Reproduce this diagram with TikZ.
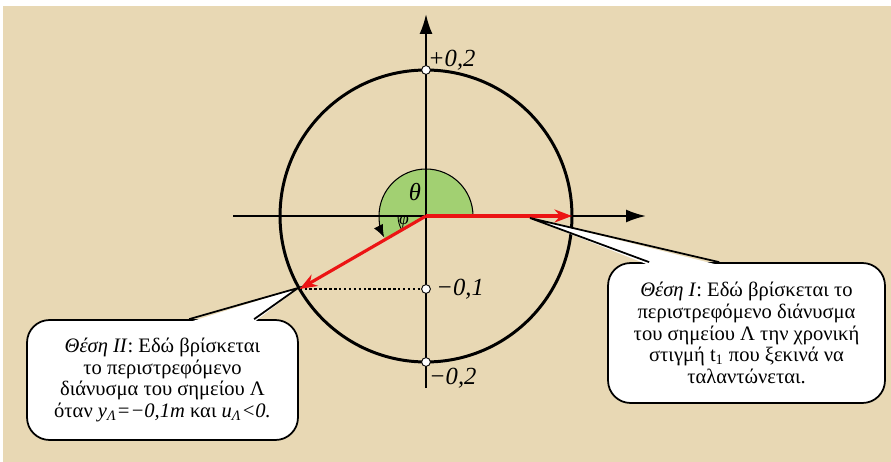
\documentclass[tikz,border=0pt]{standalone}
\usepackage{fontspec}
\setmainfont{Liberation Serif}
\usepackage{tikz}
\usetikzlibrary{arrows.meta,positioning,calc}
\definecolor{paper}{RGB}{232,216,180}
\definecolor{anglegreen}{RGB}{162,208,114}
\definecolor{vecred}{RGB}{236,20,20}

\begin{document}
\begin{tikzpicture}[x=0.02cm, y=0.02cm,
    axis/.style={line width=1.2pt, -{Latex[length=4mm,width=2.6mm]}},
    vec/.style={vecred, line width=1.8pt, -{Stealth[length=3.5mm,width=2.6mm]}},
    dot/.style={circle, draw, fill=white, inner sep=0pt, minimum size=5pt, line width=0.5pt},
    val/.style={font=\fontsize{14}{14}\selectfont\itshape, inner sep=1pt},
    bubble/.style={rectangle, draw, fill=white, rounded corners=0.45cm, line width=1pt, align=center, font=\fontsize{11.7}{12.3}\selectfont, inner sep=0pt}
]
    \fill[white] (0,0) rectangle (891,-462);
    \fill[paper] (3,-6) rectangle (891,-462);
    \useasboundingbox (0,0) rectangle (891,-462);

    \coordinate (O) at (426,-216);
    % angle theta
    \fill[anglegreen] (O) -- ++(0:0.94cm) arc[start angle=0, end angle=210, radius=0.94cm] -- cycle;
    \draw[line width=0.6pt, -{Latex[length=2.5mm,width=2mm]}] ($(O)+(0:0.94cm)$) arc[start angle=0, end angle=207, radius=0.94cm];
    \draw[line width=0.5pt] ($(O)+(180:0.56cm)$) arc[start angle=180, end angle=210, radius=0.56cm];
    \node (theta) at (415,-192) {\fontsize{14}{14}\selectfont\itshape θ};
    \node (phi) at (404,-222) {\fontsize{10}{10}\selectfont\itshape φ};

    % axes and circle
    \coordinate (xl) at (233,-216);
    \coordinate (xr) at (646,-216);
    \coordinate (yb) at (426,-388);
    \coordinate (yt) at (426,-14);
    \draw[line width=1.7pt] (O) circle[radius=2.92cm];
    \draw[axis] (xl) -- (xr);
    \draw[axis] (yb) -- (yt);

    % points on the vertical axis
    \node[dot] (top) at (426,-70) {};
    \node[dot] (mid) at (426,-289) {};
    \node[dot] (bot) at (426,-362) {};
    \node[val, anchor=south west] (ltop) at (426,-72) {+0,2};
    \node[val, right=2pt of mid] (lmid) {−0,1};
    \node[val, anchor=north west] (lbot) at (427,-366) {−0,2};

    % rotating vectors
    \coordinate (A) at (572,-216);
    \coordinate (B) at (299.6,-289);
    \draw[line width=1.4pt, dash pattern=on 1.4pt off 1.4pt] (B) -- (mid);
    \draw[vec] (O) -- (A);
    \draw[vec] (O) -- (B);

    % callouts
    \node[bubble, minimum width=5.54cm, minimum height=2.8cm] (posI) at (746.5,-333)
        {\textit{Θέση I}: Εδώ βρίσκεται το\\περιστρεφόμενο διάνυσμα\\του σημείου Λ την χρονική\\στιγμή t\textsubscript{1} που ξεκινά να\\ταλαντώνεται.};
    \coordinate (tipI) at (530,-218);
    \fill[white] ($(posI.north west)+(42,-3)$) -- (tipI) -- ($(posI.north west)+(112,-3)$) -- cycle;
    \draw[line width=1pt] ($(posI.north west)+(42,0)$) -- (tipI) -- ($(posI.north west)+(112,0)$);

    \node[bubble, minimum width=5.42cm, minimum height=2.4cm] (posII) at (162.5,-380)
        {\textit{Θέση II}: Εδώ βρίσκεται\\το περιστρεφόμενο\\διάνυσμα του σημείου Λ\\όταν \textit{y\textsubscript{Λ}=−0,1m} και \textit{u\textsubscript{Λ}<0.}};
    \coordinate (tipII) at (298,-288);
    \fill[white] ($(posII.north west)+(163,-3)$) -- (tipII) -- ($(posII.north west)+(228,-3)$) -- cycle;
    \draw[line width=1pt] ($(posII.north west)+(163,0)$) -- (tipII) -- ($(posII.north west)+(228,0)$);
\end{tikzpicture}
\end{document}
